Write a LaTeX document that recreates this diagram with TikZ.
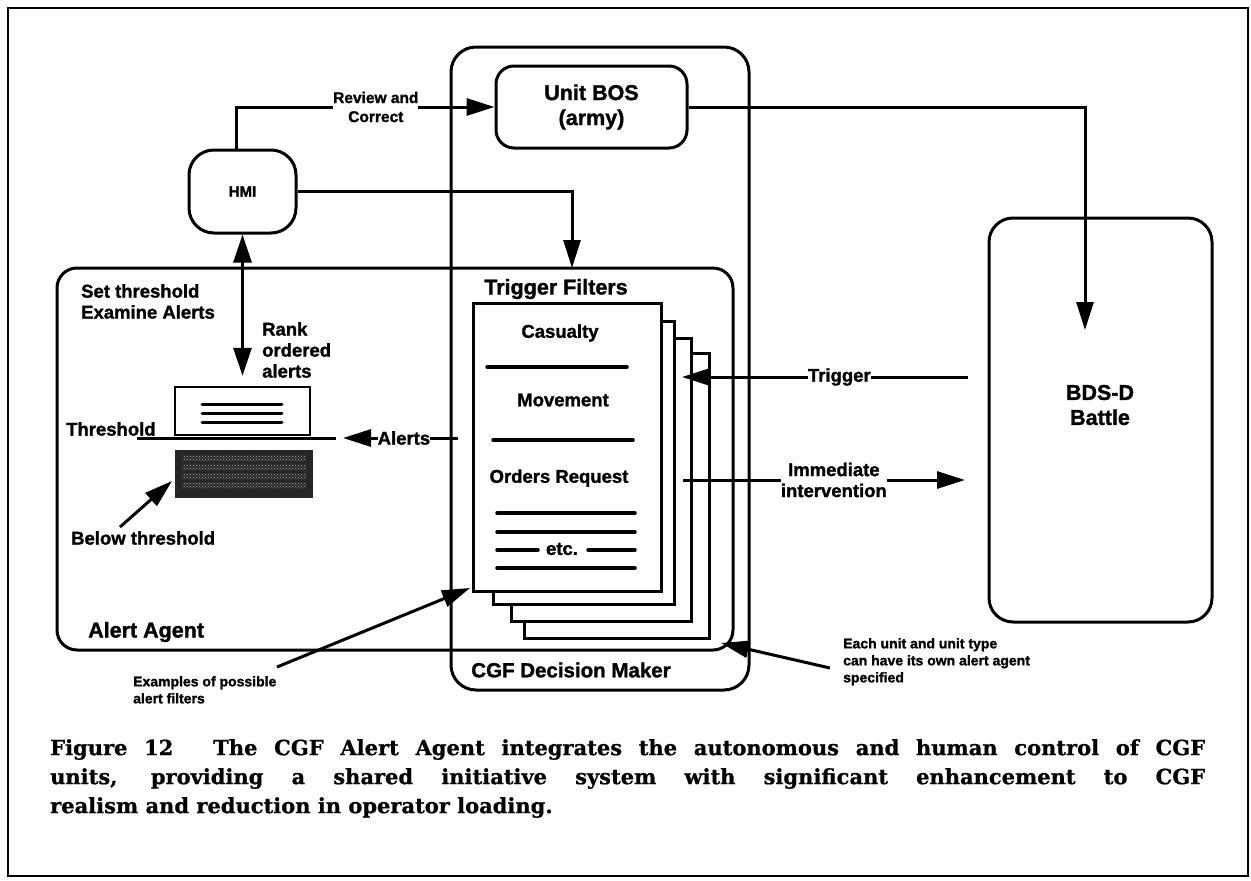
\documentclass[tikz,border=0pt]{standalone}
\usepackage{fontspec}
\newfontfamily\sansbf{Liberation Sans}[BoldFeatures={FakeBold=1.4}]
\newfontfamily\capserif{DejaVu Serif}[BoldFeatures={FakeBold=0.8}]
\usetikzlibrary{arrows.meta,patterns}
\tikzset{
  rbox/.style={draw, line width=3pt, inner sep=0pt, align=center},
  sheet/.style={draw, line width=3pt, fill=white, inner sep=0pt, anchor=north west},
  arr/.style={line width=3pt, -{Triangle[length=28pt,width=17pt]}},
  dbl/.style={line width=3pt, {Triangle[length=28pt,width=18pt]}-{Triangle[length=28pt,width=18pt]}},
  lbl/.style={font=\sansbf\bfseries\fontsize{18.5}{21}\selectfont, inner sep=0pt, align=left},
  hd/.style={font=\sansbf\bfseries\fontsize{21.5}{25}\selectfont, inner sep=0pt, align=center},
  note/.style={font=\sansbf\bfseries\fontsize{14}{17}\selectfont, inner sep=0pt, align=left},
  rulel/.style={line width=3.5pt, line cap=round},
  gap/.style={fill=white, inner xsep=6pt, inner ysep=1pt},
}
\begin{document}
\begin{tikzpicture}[x=1pt,y=-1pt]
\useasboundingbox (0,0) rectangle (1251,881);
% outer frame
\draw[line width=2pt] (8,8) rectangle (1248,876);

% containers
\node[rbox, rounded corners=25pt, minimum width=298pt, minimum height=643pt] (cgf) at (600,368.5) {};
\node[rbox, rounded corners=20pt, minimum width=676pt, minimum height=382pt] (aa) at (395,459) {};
\node[hd, anchor=west] (aat) at (88,632) {Alert Agent};
\node[hd, font=\sansbf\bfseries\fontsize{20.5}{24}\selectfont] (cgft) at (571,670) {CGF Decision Maker};

% top boxes
\node[rbox, rounded corners=18pt, minimum width=191pt, minimum height=82pt, hd] (bos) at (591.5,107) {Unit BOS\\(army)};
\node[rbox, rounded corners=25pt, minimum width=107pt, minimum height=83pt,
      font=\sansbf\bfseries\fontsize{15}{17}\selectfont] (hmi) at (242.5,191.5) {HMI};
\node[rbox, rounded corners=24pt, minimum width=223pt, minimum height=404pt] (bds) at (1100.5,420) {};
\node[hd] (bdst) at (1100,405) {BDS-D\\Battle};

% trigger filter sheets
\node[hd] (tft) at (556,289) {Trigger Filters};
\node[sheet, minimum width=185pt, minimum height=285pt] (p4) at (523,352) {};
\node[sheet, minimum width=180pt, minimum height=283pt] (p3) at (510,337) {};
\node[sheet, minimum width=181pt, minimum height=283pt] (p2) at (492,320) {};
\node[sheet, minimum width=188pt, minimum height=288pt] (p1) at (472,302) {};
\node[lbl] (cas) at (560,333) {Casualty};
\draw[rulel] (487,367) -- (627,367);
\node[lbl] (mov) at (563,400) {Movement};
\draw[rulel] (493,440) -- (633,440);
\node[lbl] (ord) at (559,478) {Orders Request};
\draw[rulel] (497,513) -- (635,513);
\draw[rulel] (497,532) -- (635,532);
\draw[rulel] (497,550) -- (538,550);
\draw[rulel] (588,550) -- (635,550);
\node[lbl] (etc) at (562,549) {etc.};
\draw[rulel] (497,568) -- (635,568);

% ranked alert list, threshold and suppressed alerts
\node[draw, line width=2.5pt, minimum width=135pt, minimum height=48pt, inner sep=0pt] (rank) at (242.5,411) {};
\foreach \yy in {404,413,422} \draw[line width=3pt, line cap=round] (202,\yy) -- (282,\yy);
\node[fill=black!85, minimum width=138pt, minimum height=48pt, inner sep=0pt] (low) at (244,474) {};
\foreach \yy in {455,464,473,482} \fill[pattern=crosshatch dots, pattern color=black!30] (182,\yy) rectangle (306,{\yy+6});
\coordinate (thrL) at (137,438);
\coordinate (thrR) at (336,438);
\draw[line width=3pt] (thrL) -- (thrR);
\node[lbl, anchor=south west] (thrt) at (66,436) {Threshold};
\node[lbl, anchor=north west] (sett) at (81,284) {Set threshold\\Examine Alerts};
\node[lbl, anchor=north west] (rankt) at (262,322) {Rank\\ordered\\alerts};
\node[lbl, anchor=north west] (belt) at (71,531) {Below threshold};

% connector end points
\coordinate (tfin) at (572,268);
\coordinate (bdsin) at (1085,330);
\coordinate (alsrc) at (458,438);
\coordinate (altip) at (343,438);
\coordinate (trigsrc) at (968,377);
\coordinate (trigtip) at (682,377);
\coordinate (imsrc) at (683,480);
\coordinate (imtip) at (965,480);
\coordinate (belsrc) at (120,527);
\coordinate (beltip) at (172,481);
\coordinate (exsrc) at (277,667);
\coordinate (extip) at (470,588);
\coordinate (eachsrc) at (830,668);
\coordinate (eachtip) at (721,643);

% connectors
\draw[arr] ([xshift=-6pt]hmi.north) |- node[pos=0.77, gap, inner xsep=16pt, lbl, align=center,
      font=\sansbf\bfseries\fontsize{15.5}{19}\selectfont] (rev) {Review and\\Correct} (bos.west);
\draw[arr] (hmi.east) -| (tfin);
\draw[dbl, shorten >=10pt] (hmi.south) -- (rank.north);
\draw[arr] (bos.east) -| (bdsin);
\draw[arr] (alsrc) -- node[pos=0.47, gap, lbl] (alt) {Alerts} (altip);
\draw[arr] (trigsrc) -- node[pos=0.45, gap, lbl] (trt) {Trigger} (trigtip);
\draw[arr] (imsrc) -- node[pos=0.535, gap, lbl, align=center] (imt) {Immediate\\intervention} (imtip);
\draw[arr] (belsrc) -- (beltip);
\draw[arr] (exsrc) -- (extip);
\draw[arr] (eachsrc) -- (eachtip);

% notes
\node[note, anchor=north west] (ex) at (133,676) {Examples of possible\\alert filters};
\node[note, anchor=north west] (each) at (843,638) {Each unit and unit type\\can have its own alert agent\\specified};

% caption
\node[anchor=north west, inner sep=0pt, text width=1155pt, align=justify,
      font=\capserif\bfseries\fontsize{21}{29}\selectfont] (cap) at (50,739)
  {Figure 12\hspace{1.1em} The CGF Alert Agent integrates the autonomous and human control of CGF\linebreak
   units, providing a shared initiative system with significant enhancement to CGF\linebreak
   realism and reduction in operator loading.};
\end{tikzpicture}
\end{document}
